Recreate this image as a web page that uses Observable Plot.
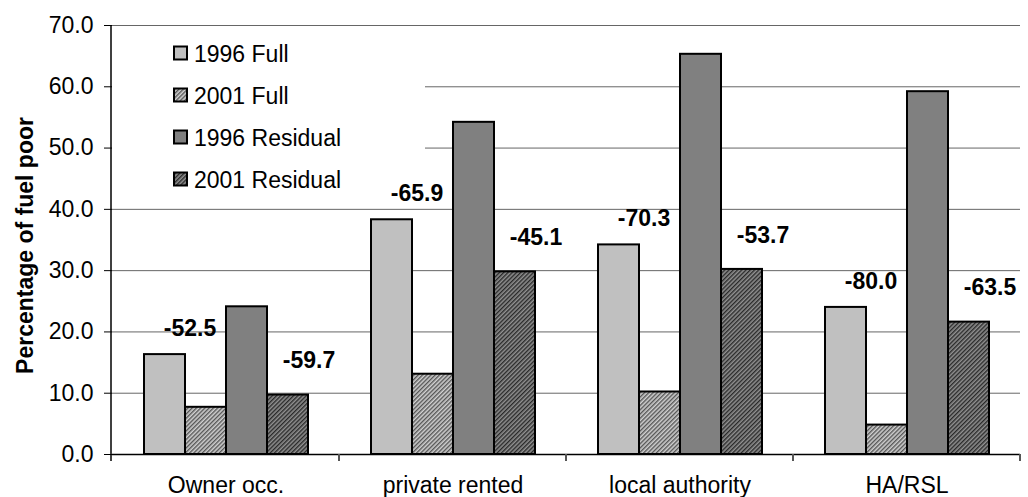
<!DOCTYPE html>
<html>
<head>
<meta charset="utf-8">
<script src="https://cdn.jsdelivr.net/npm/d3@7"></script>
<script src="https://cdn.jsdelivr.net/npm/@observablehq/plot@0.6"></script>
<style>
  html, body { margin: 0; padding: 0; background: #fff; }
  #chart svg { font-family: "Liberation Sans", Arial, sans-serif; overflow: visible; }
</style>
</head>
<body>
<div id="chart"></div>
<script>
// Fuel poverty by tenure: 1996 vs 2001, full and residual measures
const categories = ["Owner occ.", "private rented", "local authority", "HA/RSL"];
const series = ["1996 Full", "2001 Full", "1996 Residual", "2001 Residual"];
const full1996 = [16.3, 38.3, 34.2, 24.0];
const full2001 = [7.7, 13.1, 10.2, 4.8];
const residual1996 = [24.1, 54.2, 65.3, 59.2];
const residual2001 = [9.7, 29.8, 30.2, 21.6];
// percentage change 1996 -> 2001
const fullChange = ["-52.5", "-65.9", "-70.3", "-80.0"];
const residualChange = ["-59.7", "-45.1", "-53.7", "-63.5"];
const yTicks = [0, 10, 20, 30, 40, 50, 60, 70];
const yTitle = "Percentage of fuel poor";

const fills = ["#c0c0c0", "url(#hatch-light)", "#808080", "url(#hatch-dark)"];
const seriesValues = [full1996, full2001, residual1996, residual2001];

const rows = [];
categories.forEach((c, i) => {
  series.forEach((s, j) => rows.push({category: c, series: s, value: seriesValues[j][i]}));
});
const fullLabels = categories.map((c, i) => ({category: c, series: "1996 Full", value: full1996[i], text: fullChange[i]}));
const residualLabels = categories.map((c, i) => ({category: c, series: "2001 Residual", value: residual2001[i], text: residualChange[i]}));

const W = 1028, H = 497;
const font = 23;

const plot = Plot.plot({
  width: W,
  height: H,
  marginLeft: 111,
  marginRight: 7,
  marginTop: 25,
  marginBottom: 43,
  style: {fontFamily: '"Liberation Sans", Arial, sans-serif', color: "#000", background: "#fff"},
  fx: {domain: categories, padding: 0, label: null},
  x: {domain: series, paddingInner: 0, paddingOuter: 0.75, axis: null},
  y: {domain: [0, 70], label: null},
  color: {type: "ordinal", domain: series, range: fills},
  marks: [
    Plot.gridY(yTicks, {stroke: "#666", strokeOpacity: 1, strokeWidth: 1}),
    Plot.barY(rows, {fx: "category", x: "series", y: "value", fill: "series", stroke: "#000", strokeWidth: 2}),
    Plot.ruleY([0], {stroke: "#000", strokeWidth: 1.5}),
    Plot.axisY({ticks: yTicks, tickFormat: d3.format(".1f"), tickSize: 8, tickPadding: 11, fontSize: font, label: null}),
    Plot.axisFx({anchor: "bottom", tickSize: 0, tickPadding: 22, fontSize: font, label: null}),
    Plot.text(fullLabels, {fx: "category", x: "series", y: "value", text: "text", dx: 25, dy: -26, fontSize: font, fontWeight: "bold", fill: "#000"}),
    Plot.text(residualLabels, {fx: "category", x: "series", y: "value", text: "text", dx: 21, dy: -34, fontSize: font, fontWeight: "bold", fill: "#000"})
  ]
});

document.getElementById("chart").appendChild(plot);
const svg = d3.select(plot);

// hatch patterns for the 2001 series
const defs = svg.insert("defs", ":first-child");
function hatch(id, base, line) {
  const p = defs.append("pattern")
    .attr("id", id).attr("patternUnits", "userSpaceOnUse")
    .attr("width", 3).attr("height", 3)
    .attr("patternTransform", "rotate(45)");
  p.append("rect").attr("width", 3).attr("height", 3).attr("fill", base);
  p.append("rect").attr("width", 1.4).attr("height", 3).attr("fill", line);
}
hatch("hatch-light", "#d0d0d0", "#555");
hatch("hatch-dark", "#909090", "#2a2a2a");

const y = plot.scale("y");
const fx = plot.scale("fx");
const left = 111;
const y0 = y.apply(0);

// vertical axis line
svg.append("line")
  .attr("x1", left).attr("x2", left)
  .attr("y1", y.apply(70)).attr("y2", y0 + 7)
  .attr("stroke", "#000").attr("stroke-width", 1.5);

// category boundary ticks
categories.forEach(c => {
  const xr = fx.apply(c) + fx.bandwidth;
  svg.append("line")
    .attr("x1", xr).attr("x2", xr)
    .attr("y1", y0).attr("y2", y0 + 7)
    .attr("stroke", "#555").attr("stroke-width", 2);
});

// axis title
svg.append("text")
  .attr("transform", `translate(25,${(y.apply(70) + y0) / 2 + 6}) rotate(-90)`)
  .attr("text-anchor", "middle")
  .attr("dominant-baseline", "central")
  .attr("font-size", font)
  .attr("font-weight", "bold")
  .attr("fill", "#000")
  .text(yTitle);

// legend box
const lg = svg.append("g").attr("text-anchor", "start");
lg.append("rect")
  .attr("x", left + 1).attr("y", 31)
  .attr("width", 313).attr("height", 170)
  .attr("fill", "#fff");
series.forEach((s, i) => {
  const cy = 53.5 + i * 42;
  lg.append("rect")
    .attr("x", 174).attr("y", cy - 7)
    .attr("width", 13).attr("height", 13)
    .attr("fill", fills[i]).attr("stroke", "#000").attr("stroke-width", 2);
  lg.append("text")
    .attr("x", 194).attr("y", cy)
    .attr("text-anchor", "start")
    .attr("dominant-baseline", "central")
    .attr("font-size", font)
    .attr("fill", "#000")
    .text(s);
});

// lift the change labels above the legend box, keeping their on-screen placement
const changeTexts = new Set([...fullChange, ...residualChange]);
const rootInv = plot.getScreenCTM().inverse();
const labelLayer = svg.append("g")
  .attr("fill", "#000")
  .attr("font-size", font)
  .attr("font-weight", "bold")
  .attr("text-anchor", "middle")
  .node();
Array.from(plot.querySelectorAll("text"))
  .filter(t => changeTexts.has(t.textContent) && !lg.node().contains(t))
  .forEach(t => {
    const m = rootInv.multiply(t.getScreenCTM());
    t.setAttribute("transform", `matrix(${m.a},${m.b},${m.c},${m.d},${m.e},${m.f})`);
    labelLayer.appendChild(t);
  });
</script>
</body>
</html>
